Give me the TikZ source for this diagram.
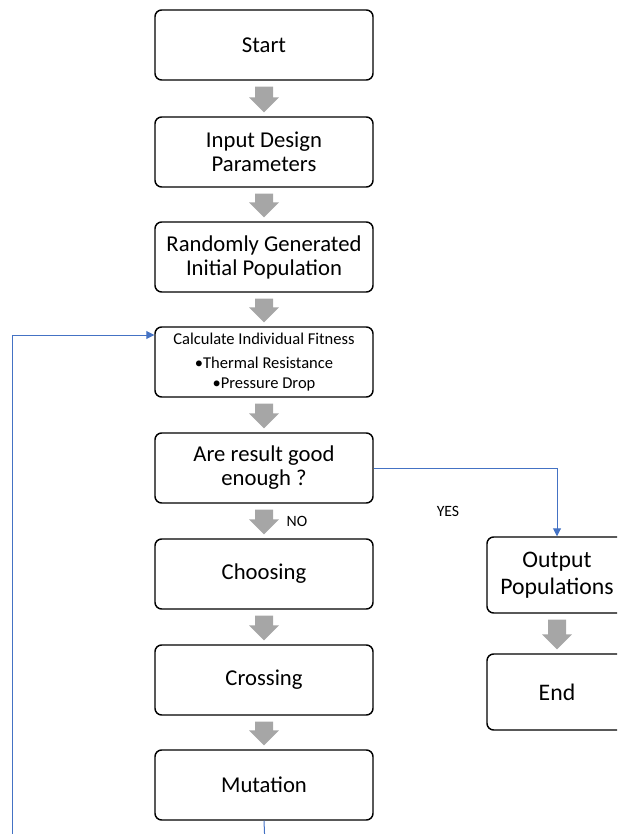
\documentclass[tikz,border=0pt]{standalone}
\usepackage{fontspec}
\setmainfont{Carlito}
\usetikzlibrary{calc,arrows.meta}
\definecolor{boxline}{HTML}{000000}
\definecolor{garrow}{HTML}{A6A6A6}
\definecolor{flowblue}{HTML}{4472C4}
\tikzset{
  box/.style={draw=boxline, line width=1.1pt, rounded corners=5pt, fill=white,
    minimum width=163.5pt, minimum height=52.5pt, align=center,
    font=\fontsize{17}{18}\selectfont, inner sep=2pt},
  sidebox/.style={box, minimum width=105pt, minimum height=57pt,
    font=\fontsize{17.8}{19}\selectfont},
  blueline/.style={draw=flowblue, line width=0.75pt},
  bluetip/.style={-{Triangle[width=6pt,length=6pt]}},
  lbl/.style={font=\fontsize{11.8}{13}\selectfont, inner sep=0pt}
}
\newcommand\grayarr[2]{%
  \path ($(#1.south)+(0,6)$) coordinate (gat) ($(#2.north)+(0,-4)$) coordinate (gab);
  \fill[garrow] let \p1=(gat), \p2=(gab) in
    (\x1-6.75pt,\y1) -- (\x1+6.75pt,\y1) -- (\x1+6.75pt,\y2+11.25pt) --
    (\x1+11.25pt,\y2+11.25pt) -- (\x1,\y2) -- (\x1-11.25pt,\y2+11.25pt) --
    (\x1-6.75pt,\y2+11.25pt) -- cycle;}
\begin{document}
\begin{tikzpicture}[x=0.75pt,y=-0.75pt]
\useasboundingbox (0,0) rectangle (617,834);
\clip (0,0) rectangle (617,834);
\node[box] (start) at (264,45) {Start};
\node[box] (input) at (264,152) {Input Design\\[0pt]Parameters};
\node[box] (rand) at (264,257) {Randomly Generated\\[0pt]Initial Population};
\node[box, font=\fontsize{12.4}{14.5}\selectfont] (fit) at (264,362) {Calculate Individual Fitness\\[3.5pt]{\textbullet}Thermal Resistance\\{\textbullet}Pressure Drop};
\node[box] (are) at (264,468) {Are result good\\[0pt]enough ?};
\node[box] (choose) at (264,574) {Choosing};
\node[box] (cross) at (264,680) {Crossing};
\node[box] (mut) at (264,785) {Mutation};
\node[sidebox] (out) at (557,575) {Output\\[1pt]Populations};
\node[sidebox] (end) at (557,692) {End};

\grayarr{start}{input}
\grayarr{input}{rand}
\grayarr{rand}{fit}
\grayarr{fit}{are}
\grayarr{are}{choose}
\grayarr{choose}{cross}
\grayarr{cross}{mut}
\grayarr{out}{end}

\node[lbl] (no) at (297,521) {NO};
\node[lbl] (yes) at (448,511) {YES};

\draw[blueline, bluetip] (are.east) -| (out.north);
\coordinate (loopbot) at (12,845);
\draw[blueline, bluetip] (loopbot) |- ($(fit.west)+(0,-27)$);
\coordinate (mutbot) at (265,845);
\draw[blueline] (mut.south) -- (mutbot);
\end{tikzpicture}
\end{document}
